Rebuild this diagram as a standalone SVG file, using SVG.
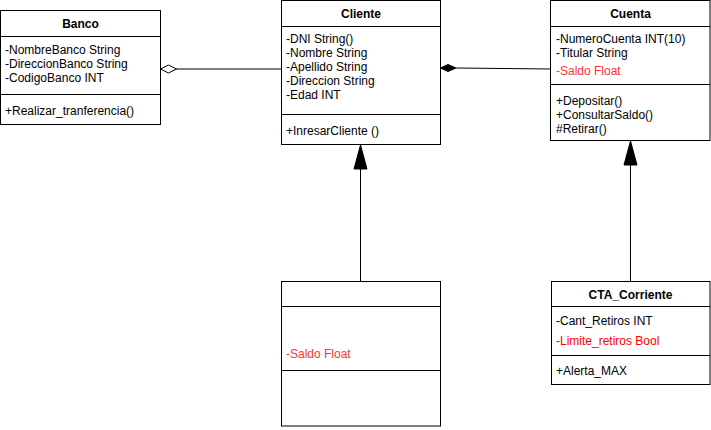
<svg xmlns="http://www.w3.org/2000/svg" width="711" height="430" viewBox="0 0 711 430">
<defs>
<style>
.box{fill:#fff;stroke:#000;stroke-width:1}
.ln{stroke:#000;stroke-width:1;fill:none}
text{font-family:"Liberation Sans",Arial,sans-serif;font-size:12px;fill:#000}
.t{font-weight:bold;text-anchor:middle}
.r{fill:#ff3333}
.rr{fill:#ff0000}
</style>
</defs>
<rect width="711" height="430" fill="#fff"/>
<g id="connectors">
<line class="ln" x1="176" y1="69" x2="281" y2="69"/>
<path d="M160.5,69 L168.5,65 L176.5,69 L168.5,73 Z" fill="#fff" stroke="#000"/>
<line class="ln" x1="456" y1="68" x2="551" y2="69"/>
<path d="M440.5,68 L448,64.5 L456,68 L448,71.5 Z" fill="#000" stroke="#000"/>
<line class="ln" x1="360.5" y1="281" x2="360.5" y2="168"/>
<path d="M360.5,145 L354,169 L367,169 Z" fill="#000" stroke="#000"/>
<line class="ln" x1="630.5" y1="281" x2="630.5" y2="164"/>
<path d="M630.5,141 L624,165 L637,165 Z" fill="#000" stroke="#000"/>
</g>
<g id="banco">
<rect class="box" x="0.5" y="10.5" width="160" height="114"/>
<line class="ln" x1="0.5" y1="36.5" x2="160.5" y2="36.5"/>
<line class="ln" x1="0.5" y1="94.5" x2="160.5" y2="94.5"/>
<text class="t" x="80.5" y="28">Banco</text>
<text x="5" y="54">-NombreBanco String</text>
<text x="5" y="68">-DireccionBanco String</text>
<text x="5" y="82">-CodigoBanco INT</text>
<text x="5" y="115">+Realizar_tranferencia()</text>
</g>
<g id="cliente">
<rect class="box" x="281.5" y="0.5" width="159" height="144"/>
<line class="ln" x1="281.5" y1="26.5" x2="440.5" y2="26.5"/>
<line class="ln" x1="281.5" y1="114.5" x2="440.5" y2="114.5"/>
<text class="t" x="361" y="18">Cliente</text>
<text x="286" y="43">-DNI String()</text>
<text x="286" y="57">-Nombre String</text>
<text x="286" y="71">-Apellido String</text>
<text x="286" y="85">-Direccion String</text>
<text x="286" y="99">-Edad INT</text>
<text x="286" y="135">+InresarCliente ()</text>
</g>
<g id="cuenta">
<rect class="box" x="550.5" y="0.5" width="159.5" height="140"/>
<line class="ln" x1="550.5" y1="26.5" x2="710" y2="26.5"/>
<line class="ln" x1="550.5" y1="84.5" x2="710" y2="84.5"/>
<text class="t" x="630.5" y="18">Cuenta</text>
<text x="556" y="43">-NumeroCuenta INT(10)</text>
<text x="556" y="57">-Titular String</text>
<text class="r" x="556" y="75">-Saldo Float</text>
<text x="556" y="105">+Depositar()</text>
<text x="556" y="119">+ConsultarSaldo()</text>
<text x="556" y="133">#Retirar()</text>
</g>
<g id="sin_nombre">
<rect class="box" x="281.5" y="281.5" width="159" height="144.5"/>
<line class="ln" x1="281.5" y1="306.5" x2="440.5" y2="306.5"/>
<line class="ln" x1="281.5" y1="370.5" x2="440.5" y2="370.5"/>
<text class="r" x="286" y="358">-Saldo Float</text>
</g>
<g id="cta_corriente">
<rect class="box" x="551.5" y="281.5" width="158.5" height="103"/>
<line class="ln" x1="551.5" y1="306.5" x2="710" y2="306.5"/>
<line class="ln" x1="551.5" y1="355.5" x2="710" y2="355.5"/>
<text class="t" x="630.5" y="299">CTA_Corriente</text>
<text x="556" y="325">-Cant_Retiros INT</text>
<text class="rr" x="556" y="345">-Limite_retiros Bool</text>
<text x="556" y="375">+Alerta_MAX</text>
</g>
</svg>
